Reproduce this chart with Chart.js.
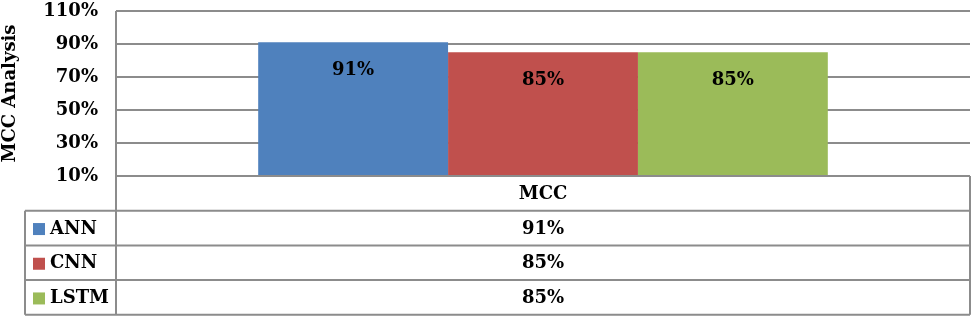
<!DOCTYPE html>
<html>
<head>
<meta charset="utf-8">
<script src="https://cdn.jsdelivr.net/npm/chart.js@4/dist/chart.umd.min.js"></script>
<style>
  body { margin: 0; background: #fff; }
</style>
</head>
<body>
<canvas id="mccChart" width="975" height="320"></canvas>
<script>
// chart data
const categories = ['MCC'];
const models = ['ANN', 'CNN', 'LSTM'];
const mccValues = [91, 85, 85];
const yTicks = [10, 30, 50, 70, 90, 110];

const colors = ['#4f81bd', '#c0504d', '#9bbb59'];
const fontFamily = '"DejaVu Serif", serif';
const gridColor = '#8c8c8c';

// values inside the bars + data table below the plot
const tablePlugin = {
    id: 'tablePlugin',
    afterDatasetsDraw(chart) {
        const ctx = chart.ctx;
        ctx.save();
        ctx.font = 'bold 18px ' + fontFamily;
        ctx.fillStyle = '#000';
        ctx.textAlign = 'center';
        ctx.textBaseline = 'middle';
        chart.data.datasets.forEach(function (ds, i) {
            const bar = chart.getDatasetMeta(i).data[0];
            ctx.fillText(ds.data[0] + '%', bar.x, bar.y + 28);
        });
        ctx.restore();
    },
    afterDraw(chart) {
        const ctx = chart.ctx;
        const area = chart.chartArea;
        const xScale = chart.scales.x;
        const rowH = 34.7;
        const tableLeft = 25;
        const top = area.bottom;
        const right = area.right;
        const nRows = models.length;
        const bottom = top + rowH * (nRows + 1);

        ctx.save();
        ctx.strokeStyle = gridColor;
        ctx.lineWidth = 2;
        ctx.beginPath();
        // header row
        ctx.moveTo(area.left, top);
        ctx.lineTo(right, top);
        for (let r = 1; r <= nRows + 1; r++) {
            const y = top + rowH * r;
            ctx.moveTo(tableLeft, y);
            ctx.lineTo(right, y);
        }
        ctx.moveTo(area.left, area.top);
        ctx.lineTo(area.left, bottom);
        ctx.moveTo(tableLeft, top + rowH);
        ctx.lineTo(tableLeft, bottom);
        ctx.moveTo(right, top);
        ctx.lineTo(right, bottom);
        ctx.stroke();

        ctx.font = 'bold 18px ' + fontFamily;
        ctx.fillStyle = '#000';
        ctx.textBaseline = 'middle';
        ctx.textAlign = 'center';
        const cx = xScale.getPixelForValue(0);
        ctx.fillText(categories[0], cx, top + rowH / 2 + 1);
        chart.data.datasets.forEach(function (ds, i) {
            const y = top + rowH * (i + 1.5) + 1;
            ctx.textAlign = 'center';
            ctx.fillStyle = '#000';
            ctx.fillText(ds.data[0] + '%', cx, y);
            ctx.fillStyle = ds.backgroundColor;
            ctx.fillRect(tableLeft + 8, y - 6, 12, 12);
            ctx.fillStyle = '#000';
            ctx.textAlign = 'left';
            ctx.fillText(ds.label, tableLeft + 25, y);
        });
        ctx.restore();
    }
};

const ctx = document.getElementById('mccChart').getContext('2d');
new Chart(ctx, {
    type: 'bar',
    data: {
        labels: categories,
        datasets: models.map(function (m, i) {
            return {
                label: m,
                data: [mccValues[i]],
                backgroundColor: colors[i],
                borderWidth: 0,
                categoryPercentage: 0.667,
                barPercentage: 1.0
            };
        })
    },
    options: {
        responsive: false,
        animation: false,
        layout: {
            padding: { top: 11, right: 5, bottom: 144, left: 0 }
        },
        plugins: {
            legend: { display: false },
            tooltip: { enabled: false }
        },
        scales: {
            x: {
                display: false
            },
            y: {
                min: 10,
                max: 110,
                afterBuildTicks(scale) {
                    scale.ticks = yTicks.map(v => ({ value: v }));
                },
                afterFit(scale) {
                    scale.width = 116;
                    scale.paddingTop = 0;
                    scale.paddingBottom = 0;
                },
                grid: {
                    color: gridColor,
                    lineWidth: 2,
                    drawTicks: false
                },
                border: { display: false },
                ticks: {
                    padding: 18,
                    color: '#000',
                    font: { family: fontFamily, size: 18, weight: 'bold' },
                    callback: v => v + '%'
                },
                title: {
                    display: true,
                    text: 'MCC Analysis',
                    color: '#000',
                    padding: { top: 0, bottom: 0 },
                    font: { family: fontFamily, size: 18, weight: 'bold' }
                }
            }
        }
    },
    plugins: [tablePlugin]
});
</script>
</body>
</html>
